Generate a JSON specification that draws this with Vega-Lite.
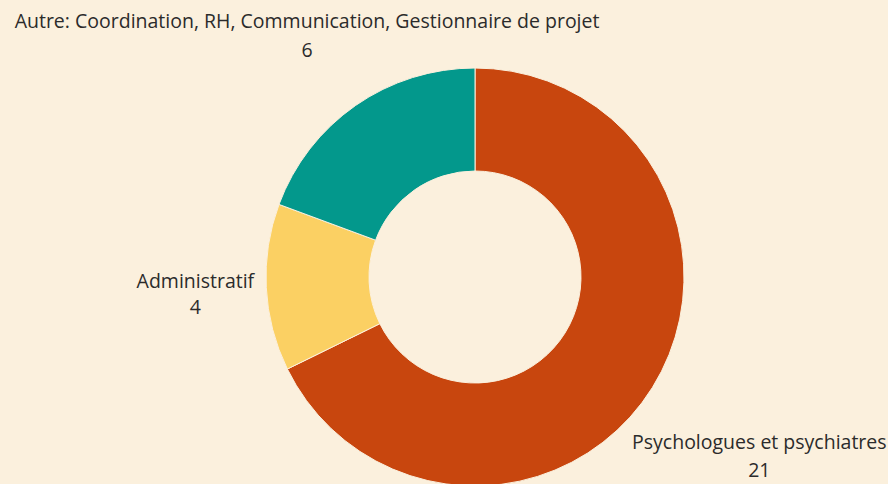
{
  "$schema": "https://vega.github.io/schema/vega-lite/v6.json",
  "width": 826,
  "height": 414,
  "autosize": "none",
  "padding": {"left": 62, "top": 70, "right": 0, "bottom": 0},
  "background": "#fbf0dd",
  "config": {"view": {"stroke": null}},
  "data": {"values": [
    {"category": "Psychologues et psychiatres", "value": 21, "order": 1},
    {"category": "Administratif", "value": 4, "order": 2},
    {"category": "Autre: Coordination, RH, Communication, Gestionnaire de projet", "value": 6, "order": 3}
  ]},
  "encoding": {
    "theta": {"field": "value", "type": "quantitative", "stack": true},
    "order": {"field": "order", "type": "quantitative"}
  },
  "layer": [
    {
      "mark": {"type": "arc", "outerRadius": 209, "innerRadius": 106, "stroke": "#fbf0dd", "strokeWidth": 1},
      "encoding": {
        "color": {"field": "category", "type": "nominal", "legend": null,
          "scale": {"domain": ["Psychologues et psychiatres", "Administratif", "Autre: Coordination, RH, Communication, Gestionnaire de projet"],
                    "range": ["#c8460e", "#fbd063", "#03988c"]}}
      }
    },
    {
      "mark": {"type": "text", "radius": 294, "dy": -14, "font": "Open Sans", "fontSize": 19.5, "fontWeight": 500, "color": "#2b2b2b"},
      "encoding": {"text": {"condition": {"test": "datum.order === 3", "field": "category", "type": "nominal"}, "value": ""}}
    },
    {
      "mark": {"type": "text", "radius": 294, "dy": 15, "font": "Open Sans", "fontSize": 19.5, "fontWeight": 500, "color": "#2b2b2b"},
      "encoding": {"text": {"condition": {"test": "datum.order === 3", "field": "value", "type": "quantitative"}, "value": ""}}
    },
    {
      "mark": {"type": "text", "radius": 280, "dy": -9, "font": "Open Sans", "fontSize": 19.5, "fontWeight": 500, "color": "#2b2b2b"},
      "encoding": {"text": {"condition": {"test": "datum.order === 2", "field": "category", "type": "nominal"}, "value": ""}}
    },
    {
      "mark": {"type": "text", "radius": 280, "dy": 17, "font": "Open Sans", "fontSize": 19.5, "fontWeight": 500, "color": "#2b2b2b"},
      "encoding": {"text": {"condition": {"test": "datum.order === 2", "field": "value", "type": "quantitative"}, "value": ""}}
    },
    {
      "mark": {"type": "text", "radius": 335, "dy": -11, "font": "Open Sans", "fontSize": 19.5, "fontWeight": 500, "color": "#2b2b2b"},
      "encoding": {"text": {"condition": {"test": "datum.order === 1", "field": "category", "type": "nominal"}, "value": ""}}
    },
    {
      "mark": {"type": "text", "radius": 335, "dy": 17, "font": "Open Sans", "fontSize": 19.5, "fontWeight": 500, "color": "#2b2b2b"},
      "encoding": {"text": {"condition": {"test": "datum.order === 1", "field": "value", "type": "quantitative"}, "value": ""}}
    }
  ]
}
